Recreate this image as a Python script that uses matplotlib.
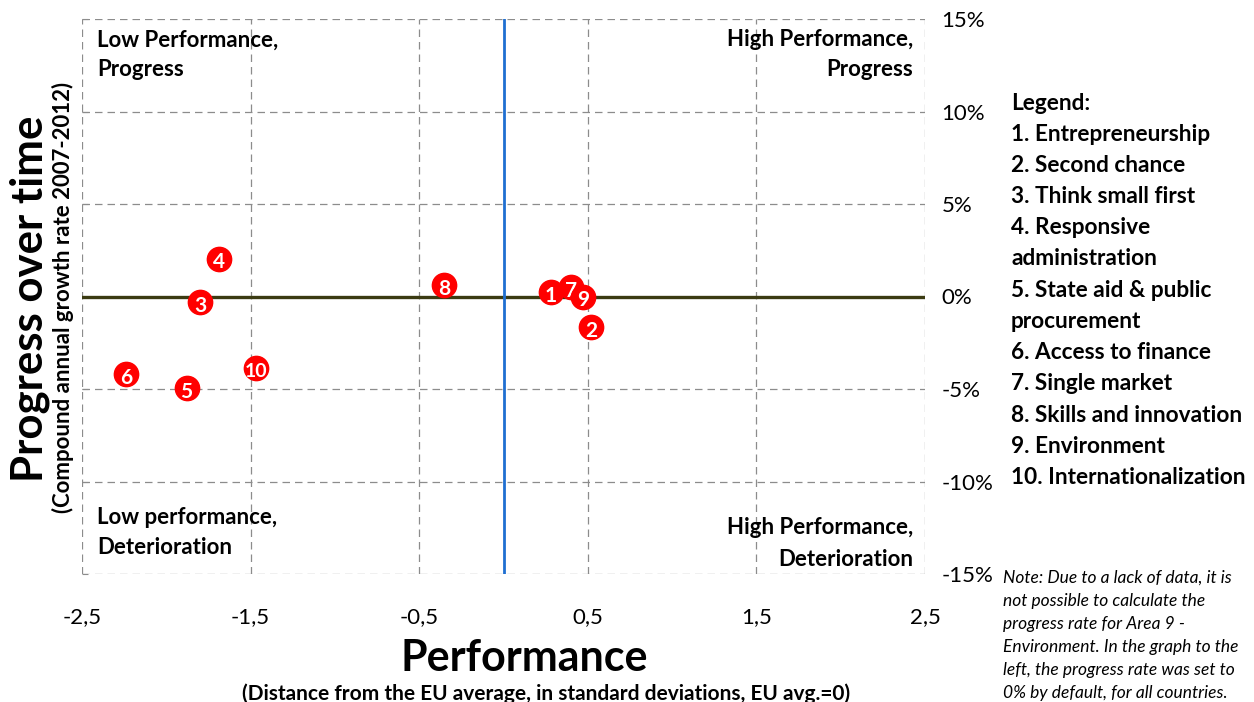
import matplotlib.pyplot as plt

plt.rcParams['font.family'] = ['Lato', 'DejaVu Sans']

# data
area_ids = ['1', '2', '3', '4', '5', '6', '7', '8', '9', '10']
performance = [0.28, 0.52, -1.80, -1.69, -1.88, -2.24, 0.40, -0.35, 0.47, -1.47]
progress = [0.22, -1.64, -0.29, 2.05, -4.94, -4.20, 0.52, 0.61, 0.0, -3.86]

x_ticks = [-2.5, -1.5, -0.5, 0.5, 1.5, 2.5]
x_tick_labels = ['-2,5', '-1,5', '-0,5', '0,5', '1,5', '2,5']
y_ticks = [-15, -10, -5, 0, 5, 10, 15]
y_tick_labels = ['-15%', '-10%', '-5%', '0%', '5%', '10%', '15%']

legend_lines = ['Legend:', '1. Entrepreneurship', '2. Second chance', '3. Think small first',
                '4. Responsive', 'administration', '5. State aid & public', 'procurement',
                '6. Access to finance', '7. Single market', '8. Skills and innovation',
                '9. Environment', '10. Internationalization']

note_lines = ['Note: Due to a lack of data, it is', 'not possible to calculate the',
              'progress rate for Area 9 -', 'Environment. In the graph to the',
              'left, the progress rate was set to', '0% by default, for all countries.']

W, H = 1254, 702
fig = plt.figure(figsize=(W / 100, H / 100), dpi=100)
ax = fig.add_axes([82 / W, 1 - 574 / H, 843 / W, 555 / H])


def fx(px):
    return px / W


def fy(py):
    return 1 - py / H


ax.set_xlim(-2.5, 2.5)
ax.set_ylim(-15, 15)
ax.set_xticks(x_ticks)
ax.set_xticklabels(x_tick_labels, fontsize=16)
ax.set_yticks(y_ticks)
ax.set_yticklabels(y_tick_labels, fontsize=16)
ax.tick_params(axis='x', length=0, pad=24)
ax.tick_params(axis='y', left=True, right=False, labelleft=False, labelright=True,
               direction='in', length=4, color='#8c8c8c', pad=12)
for s in ax.spines.values():
    s.set_visible(False)
ax.grid(True, color='#8c8c8c', linestyle=(0, (6, 4)), linewidth=0.9)
ax.set_axisbelow(True)

# quadrant axes
ax.axhline(0, color='#3b3b12', linewidth=2.4, zorder=2)
ax.axvline(0, color='#1f6fd1', linewidth=2.0, zorder=2)

# numbered points
for i, (px, py) in enumerate(zip(performance, progress)):
    ax.plot(px, py, 'o', markersize=17.5, color='#ff0000', markeredgecolor='#ff0000', zorder=3 + i)
    ax.text(px, py - 0.2, area_ids[i], color='white', fontsize=15 if len(area_ids[i]) == 1 else 14,
            fontweight='bold', ha='center', va='center', zorder=3 + i)

# quadrant labels
qfont = dict(fontsize=16, fontweight='bold', va='center')
fig.text(fx(97), fy(40), 'Low Performance,', ha='left', **qfont)
fig.text(fx(97), fy(70), 'Progress', ha='left', **qfont)
fig.text(fx(913), fy(40), 'High Performance,', ha='right', **qfont)
fig.text(fx(913), fy(70), 'Progress', ha='right', **qfont)
fig.text(fx(97), fy(517), 'Low performance,', ha='left', **qfont)
fig.text(fx(97), fy(548), 'Deterioration', ha='left', **qfont)
fig.text(fx(913), fy(528), 'High Performance,', ha='right', **qfont)
fig.text(fx(913), fy(559), 'Deterioration', ha='right', **qfont)

# axis titles
fig.text(fx(30), fy(299), 'Progress over time', rotation=90, fontsize=31.5,
         fontweight='bold', ha='center', va='center')
fig.text(fx(63), fy(297), '(Compound annual growth rate 2007-2012)', rotation=90,
         fontsize=16, fontweight='bold', ha='center', va='center')
fig.text(fx(524), fy(658), 'Performance', fontsize=31, fontweight='bold',
         ha='center', va='center')
fig.text(fx(546), fy(694), '(Distance from the EU average, in standard deviations, EU avg.=0)',
         fontsize=15, fontweight='bold', ha='center', va='center')

# legend block
for k, line in enumerate(legend_lines):
    fig.text(fx(1011), fy(103 + k * 31.2), line, fontsize=16.3, fontweight='bold',
             ha='left', va='center')

# note under the legend
for k, line in enumerate(note_lines):
    fig.text(fx(1003), fy(578 + k * 23), line, fontsize=12.5, style='italic',
             ha='left', va='center')

fig.savefig('out.png', dpi=100)
